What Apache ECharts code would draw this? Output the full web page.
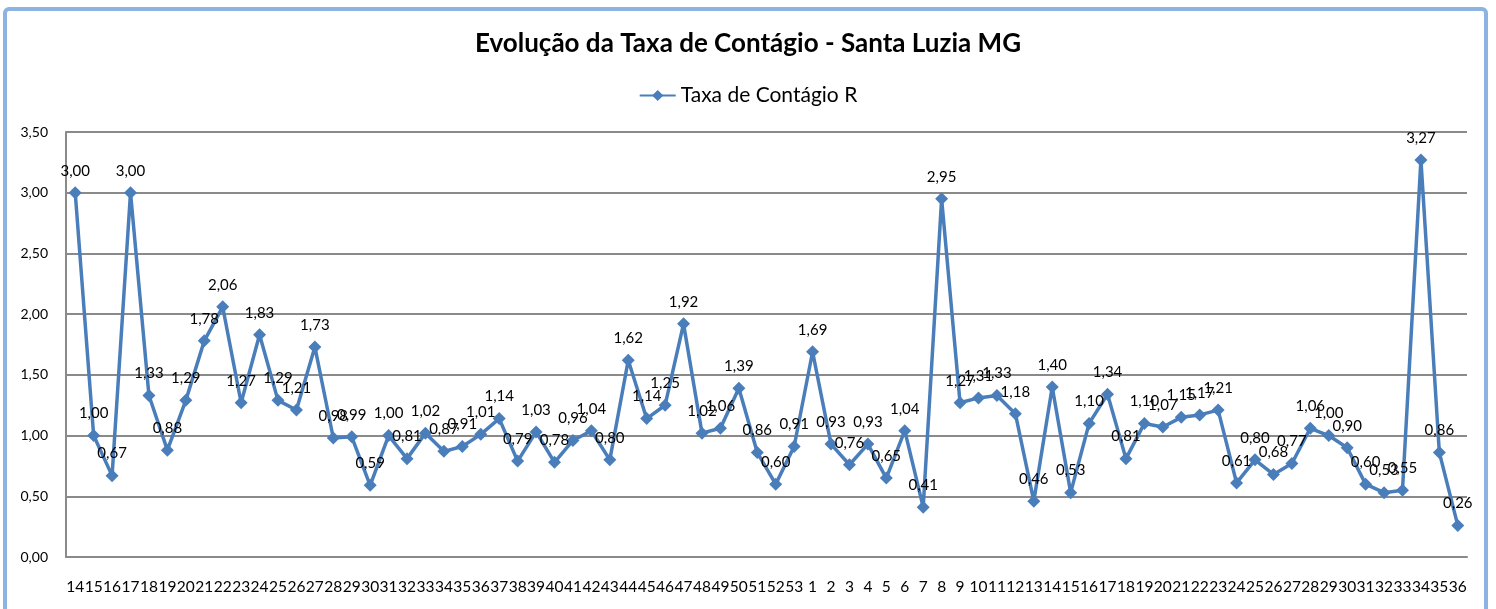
<!DOCTYPE html>
<html>
<head>
<meta charset="utf-8">
<style>
  html, body { margin: 0; padding: 0; background: #fff; }
  #frame {
    position: absolute; left: 3px; top: 7px; width: 1477px; height: 640px;
    border: 4px solid #8DB3E2; border-radius: 6px;
  }
  #chart { position: absolute; left: 0; top: 0; width: 1496px; height: 609px; }
</style>
<script src="https://cdn.jsdelivr.net/npm/echarts@6/dist/echarts.min.js"></script>
</head>
<body>
<div id="frame"></div>
<div id="chart"></div>
<script>
// semanas epidemiológicas (2020: 14-53, 2021: 1-36)
const weeks = [
  '14', '15', '16', '17', '18', '19', '20', '21', '22', '23',
  '24', '25', '26', '27', '28', '29', '30', '31', '32', '33',
  '34', '35', '36', '37', '38', '39', '40', '41', '42', '43',
  '44', '45', '46', '47', '48', '49', '50', '51', '52', '53',
  '1', '2', '3', '4', '5', '6', '7', '8', '9', '10',
  '11', '12', '13', '14', '15', '16', '17', '18', '19', '20',
  '21', '22', '23', '24', '25', '26', '27', '28', '29', '30',
  '31', '32', '33', '34', '35', '36',
];
const taxaR = [
  3.00, 1.00, 0.67, 3.00, 1.33, 0.88, 1.29, 1.78, 2.06, 1.27,
  1.83, 1.29, 1.21, 1.73, 0.98, 0.99, 0.59, 1.00, 0.81, 1.02,
  0.87, 0.91, 1.01, 1.14, 0.79, 1.03, 0.78, 0.96, 1.04, 0.80,
  1.62, 1.14, 1.25, 1.92, 1.02, 1.06, 1.39, 0.86, 0.60, 0.91,
  1.69, 0.93, 0.76, 0.93, 0.65, 1.04, 0.41, 2.95, 1.27, 1.31,
  1.33, 1.18, 0.46, 1.40, 0.53, 1.10, 1.34, 0.81, 1.10, 1.07,
  1.15, 1.17, 1.21, 0.61, 0.80, 0.68, 0.77, 1.06, 1.00, 0.90,
  0.60, 0.53, 0.55, 3.27, 0.86, 0.26,
];

const fmt = v => Number(v).toFixed(2).replace('.', ',');
const font = 'Lato, "Open Sans", sans-serif';

const chart = echarts.init(document.getElementById('chart'));
chart.setOption({
  animation: false,
  textStyle: { fontFamily: font },
  title: {
    text: 'Evolução da Taxa de Contágio - Santa Luzia MG',
    left: 'center',
    top: 26,
    textStyle: { fontFamily: font, fontSize: 26, fontWeight: 'bold', color: '#000' },
  },
  legend: {
    top: 80,
    left: 'center',
    itemWidth: 36,
    itemHeight: 14,
    itemGap: 4,
    textStyle: { fontFamily: font, fontSize: 21, color: '#000' },
    data: ['Taxa de Contágio R'],
  },
  grid: { left: 66, right: 29, top: 132, bottom: 52 },
  xAxis: {
    type: 'category',
    data: weeks,
    boundaryGap: true,
    axisLine: { lineStyle: { color: '#8a8a8a', width: 2 } },
    axisTick: { show: false },
    axisLabel: { interval: 0, margin: 22, fontSize: 15.5, color: '#000', fontFamily: font },
  },
  yAxis: {
    type: 'value',
    min: 0,
    max: 3.5,
    interval: 0.5,
    axisLine: { show: true, lineStyle: { color: '#8a8a8a', width: 2 } },
    axisTick: { show: false },
    splitLine: { lineStyle: { color: '#8a8a8a', width: 2 } },
    axisLabel: { margin: 18, fontSize: 14, color: '#000', fontFamily: font, formatter: fmt },
  },
  series: [
    {
      name: 'Taxa de Contágio R',
      type: 'line',
      data: taxaR,
      symbol: 'diamond',
      symbolSize: 13,
      lineStyle: { color: '#4A7EBB', width: 3.5 },
      itemStyle: { color: '#4A7EBB' },
      label: {
        show: true,
        position: 'top',
        distance: 8,
        fontSize: 15,
        color: '#000',
        fontFamily: font,
        formatter: p => fmt(p.value),
      },
    },
  ],
});
</script>
</body>
</html>
